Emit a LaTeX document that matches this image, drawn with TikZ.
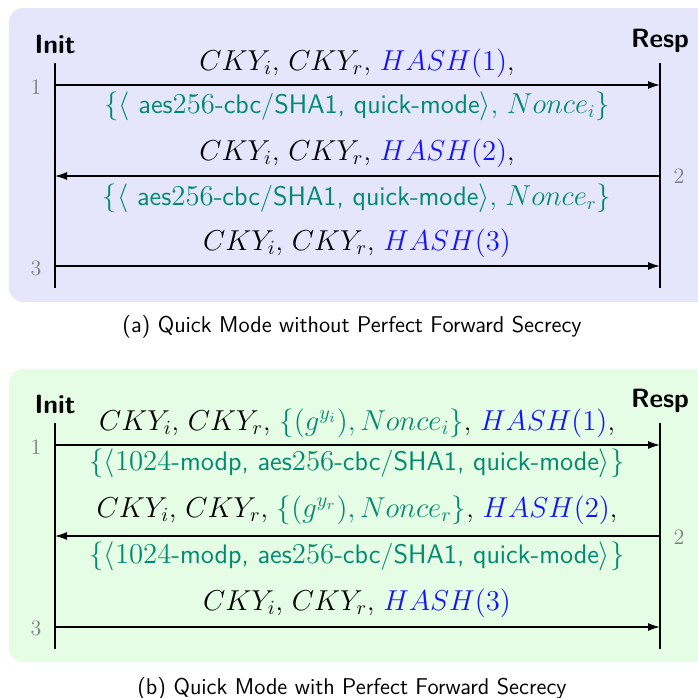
\documentclass[tikz,border=0pt]{standalone}
\usetikzlibrary{arrows.meta}
\definecolor{bgblue}{RGB}{229,229,252}
\definecolor{bggreen}{RGB}{228,253,228}
\definecolor{sachem}{RGB}{0,138,112}
\definecolor{hashblue}{RGB}{20,20,250}
\newcommand{\sa}[1]{\textcolor{sachem}{#1}}
\newcommand{\hb}[1]{\textcolor{hashblue}{#1}}
\begin{document}
\begin{tikzpicture}[x=0.5pt,y=-0.5pt,
  lifeline/.style={line width=1.3pt},
  msg/.style={line width=0.75pt,-{Latex[length=6pt,width=4pt]}},
  txt/.style={font=\fontsize{13.6}{16}\selectfont, inner sep=0pt, anchor=base},
  suite/.style={font=\fontsize{13.4}{16}\selectfont, inner sep=0pt, anchor=base, text=sachem},
  role/.style={font=\fontsize{13.2}{15}\selectfont\sffamily\bfseries, inner sep=0pt, anchor=base},
  stepno/.style={font=\fontsize{11}{13}\selectfont, text=gray, inner sep=0pt, anchor=base},
  captxt/.style={font=\fontsize{11.4}{14}\selectfont\sffamily, inner sep=0pt, anchor=base},
  panel/.style={rounded corners=7pt}
]
\useasboundingbox (0,0) rectangle (698,698);

% ---------- panel (a) ----------
\fill[bgblue, panel] (9,8) rectangle (720,302);
\node[role] (ia) at (55,53) {Init};
\node[role] (ra) at (660,47) {Resp};
\coordinate (iat) at (55,63);  \coordinate (iab) at (55,288);
\coordinate (rat) at (660,63); \coordinate (rab) at (660,288);
\draw[lifeline] (iat) -- (iab);
\draw[lifeline] (rat) -- (rab);
\coordinate (a1l) at (55,85);  \coordinate (a1r) at (660,85);
\coordinate (a2l) at (55,176); \coordinate (a2r) at (660,176);
\coordinate (a3l) at (55,266); \coordinate (a3r) at (660,266);
\draw[msg] (a1l) -- (a1r);
\draw[msg] (a2r) -- (a2l);
\draw[msg] (a3l) -- (a3r);
\node[stepno] (na1) at (36,94) {1};
\node[stepno] (na2) at (679,183) {2};
\node[stepno] (na3) at (36,275) {3};
\node[txt] (ta1) at (357,70) {$CKY_i$, $CKY_r$, \hb{$HASH(1)$},};
\node[suite] (ta2) at (357,113) {$\{\langle$ \textsf{aes}$256$\textsf{-cbc/SHA1, quick-mode}$\rangle$, $Nonce_i\}$};
\node[txt] (ta3) at (357,160) {$CKY_i$, $CKY_r$, \hb{$HASH(2)$},};
\node[suite] (ta4) at (357,205) {$\{\langle$ \textsf{aes}$256$\textsf{-cbc/SHA1, quick-mode}$\rangle$, $Nonce_r\}$};
\node[txt] (ta5) at (357,250) {$CKY_i$, $CKY_r$, \hb{$HASH(3)$}};
\node[captxt] (capa) at (352,332) {(a) Quick Mode without Perfect Forward Secrecy};

% ---------- panel (b) ----------
\fill[bggreen, panel] (9,369) rectangle (720,662);
\node[role] (ib) at (55,413) {Init};
\node[role] (rb) at (660,407) {Resp};
\coordinate (ibt) at (55,423);  \coordinate (ibb) at (55,649);
\coordinate (rbt) at (660,423); \coordinate (rbb) at (660,649);
\draw[lifeline] (ibt) -- (ibb);
\draw[lifeline] (rbt) -- (rbb);
\coordinate (b1l) at (55,445);  \coordinate (b1r) at (660,445);
\coordinate (b2l) at (55,536);  \coordinate (b2r) at (660,536);
\coordinate (b3l) at (55,627);  \coordinate (b3r) at (660,627);
\draw[msg] (b1l) -- (b1r);
\draw[msg] (b2r) -- (b2l);
\draw[msg] (b3l) -- (b3r);
\node[stepno] (nb1) at (36,454) {1};
\node[stepno] (nb2) at (679,544) {2};
\node[stepno] (nb3) at (36,635) {3};
\node[txt] (tb1) at (357,430) {$CKY_i$, $CKY_r$, \sa{$\{(g^{y_i}), Nonce_i\}$}, \hb{$HASH(1)$},};
\node[suite] (tb2) at (357,470) {$\{\langle 1024$\textsf{-modp, aes}$256$\textsf{-cbc/SHA1, quick-mode}$\rangle\}$};
\node[txt] (tb3) at (357,517) {$CKY_i$, $CKY_r$, \sa{$\{(g^{y_r}), Nonce_r\}$}, \hb{$HASH(2)$},};
\node[suite] (tb4) at (357,563) {$\{\langle 1024$\textsf{-modp, aes}$256$\textsf{-cbc/SHA1, quick-mode}$\rangle\}$};
\node[txt] (tb5) at (357,610) {$CKY_i$, $CKY_r$, \hb{$HASH(3)$}};
\node[captxt] (capb) at (352,694) {(b) Quick Mode with Perfect Forward Secrecy};
\end{tikzpicture}
\end{document}
